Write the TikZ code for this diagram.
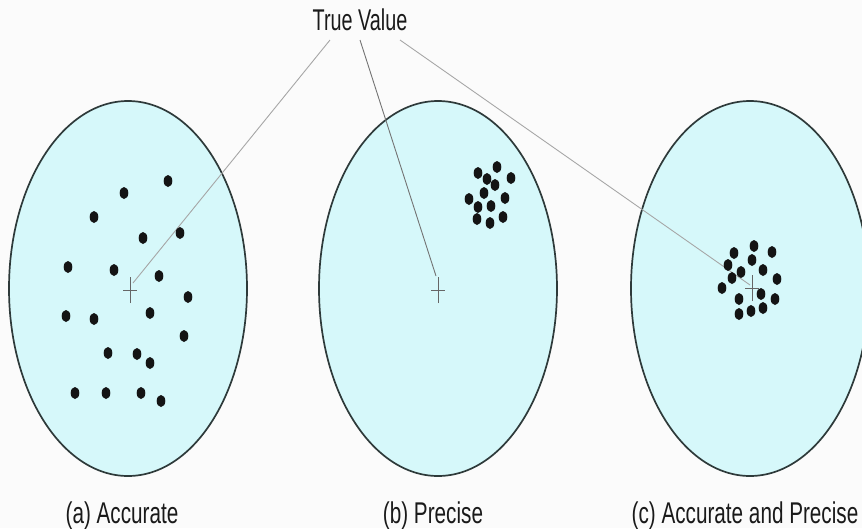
\documentclass[tikz,border=0pt]{standalone}
\usepackage{fontspec}
\newfontfamily\cond[FakeStretch=0.66]{Liberation Sans}
\newfontfamily\condcap[FakeStretch=0.69]{Liberation Sans}
\definecolor{bgc}{HTML}{FBFBFB}
\definecolor{fillc}{HTML}{D6F8FA}
\definecolor{edgec}{HTML}{2E3A3A}
\definecolor{txtc}{HTML}{1A1A1A}
\tikzset{
  target/.style={fill=fillc,draw=edgec,line width=1.7pt},
  dot/.style={fill=black!92},
  crossmark/.style={draw=black!60,line width=0.9pt},
  pointer/.style={draw=black!35,line width=0.9pt},
  lbl/.style={font=\cond\fontsize{30}{32}\selectfont,text=txtc,inner sep=0pt,anchor=base},
  caplbl/.style={lbl,font=\condcap\fontsize{30}{32}\selectfont},
}
\begin{document}
\begin{tikzpicture}[x=1pt,y=-1pt]
\useasboundingbox[fill=bgc] (0,0) rectangle (862,528);
% targets
\draw[target] (128,288.5) ellipse (119pt and 187.5pt);
\draw[target] (438,288.5) ellipse (119pt and 187.5pt);
\draw[target] (750,288.5) ellipse (119pt and 187.5pt);
% cross marks
\coordinate (ca) at (130,290);
\coordinate (cb) at (438,290);
\coordinate (cc) at (752,288);
\foreach \c in {ca,cb,cc}{
  \draw[crossmark] ([xshift=-7pt]\c) -- ([xshift=7pt]\c);
  \draw[crossmark] ([yshift=-13pt]\c) -- ([yshift=13pt]\c);
}
% title and pointer lines
\node[lbl] (tv) at (360,30) {True Value};
\coordinate (s1) at (330,40);
\coordinate (s2) at (360,40);
\coordinate (s3) at (400,40);
\coordinate (e1) at (133,283);
\coordinate (e2) at (436,276);
\coordinate (e3) at (750,285);
\draw[pointer] (s1) -- (e1);
\draw[pointer,draw=black!55] (s2) -- (e2);
\draw[pointer] (s3) -- (e3);
% dots (a)
\foreach \x/\y in {168/181,124/193,94/217,143/238,180/233,68/267,114/270,159/276,188/297,66/316,94/319,150/313,184/336,108/353,137/354,150/363,75/393,106/393,141/393,161/401}
  \fill[dot] (\x,\y) ellipse (4.3pt and 6pt);
% dots (b)
\foreach \x/\y in {497/167,478/173,487/179,511/178,495/185,484/193,469/199,505/198,478/207,491/206,477/219,490/223,503/217}
  \fill[dot] (\x,\y) ellipse (4.3pt and 6pt);
% dots (c)
\foreach \x/\y in {754/246,772/252,734/253,752/260,728/265,741/272,763/270,732/278,777/279,722/288,761/294,739/299,775/299,763/308,751/311,739/314}
  \fill[dot] (\x,\y) ellipse (4.3pt and 6pt);
% captions
\node[caplbl] (la) at (122,523) {(a) Accurate};
\node[caplbl] (lb) at (433,523) {(b) Precise};
\node[caplbl] (lc) at (745,523) {(c) Accurate and Precise};
\end{tikzpicture}
\end{document}
